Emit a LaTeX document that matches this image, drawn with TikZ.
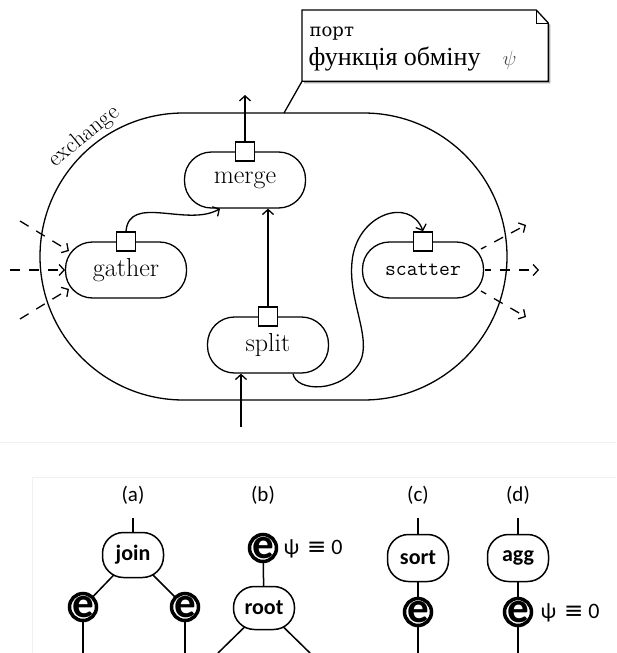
\documentclass[tikz,border=0pt]{standalone}
\usepackage{fontspec}
\usetikzlibrary{arrows.meta,backgrounds}
\newfontfamily\carlito{Carlito}
\newfontfamily\noteslab{DejaVu Serif}
\newfontfamily\noteserif{Liberation Serif}
\newfontfamily\symfont{DejaVu Sans}
\begin{document}
\begin{tikzpicture}[x=1pt,y=1pt,
  line width=1.3pt,
  arr/.style={-{Straight Barb[length=5pt,width=11pt]}},
  flow/.style={arr, dash pattern=on 10pt off 9pt},
  proc/.style={draw, fill=white, rectangle, rounded corners=27pt,
    minimum width=121pt, minimum height=56pt, inner sep=0pt,
    font=\fontsize{26}{26}\selectfont},
  port/.style={draw, fill=white, minimum size=19pt, inner sep=0pt},
  op/.style={draw, fill=white, rounded corners=21pt, minimum width=61pt,
    minimum height=45pt, inner sep=0pt, line width=1.5pt,
    font=\carlito\bfseries\fontsize{22}{22}\selectfont},
  ebox/.style={circle, draw, line width=3.5pt, fill=white, minimum size=27pt,
    inner sep=0pt,
    path picture={\node at (path picture bounding box.center)
      {\carlito\bfseries\fontsize{43}{43}\selectfont e};}},
  edgeline/.style={line width=1.5pt},
  figlabel/.style={font=\carlito\fontsize{21}{21}\selectfont, inner sep=0pt},
  eqlabel/.style={anchor=base west, inner sep=0pt, font=\carlito\fontsize{22}{22}\selectfont},
]
\useasboundingbox (0,0) rectangle (616,-653);

% ---------------- exchange operator ----------------
\draw[rounded corners=143.5pt] (40,-113) rectangle (507,-400);
\node[anchor=base, inner sep=0pt, rotate=39, font=\fontsize{23}{23}\selectfont]
  (xlabel) at (88,-141) {exchange};

% note box
\node[minimum width=245pt, minimum height=70pt, anchor=north west, inner sep=0pt]
  (note) at (302,-10) {};
\fill[black!35] ([shift={(2,-2)}]note.north west) -- ([shift={(-10,-2)}]note.north east)
  -- ([shift={(2,-15)}]note.north east) -- ([shift={(2,-2)}]note.south east)
  -- ([shift={(2,-2)}]note.south west) -- cycle;
\draw[fill=white] (note.north west) -- ([xshift=-12pt]note.north east)
  -- ([yshift=-13pt]note.north east) -- (note.south east) -- (note.south west) -- cycle;
\draw[line width=1pt] ([xshift=-12pt]note.north east) -- ([xshift=-12pt,yshift=-13pt]note.north east)
  -- ([yshift=-13pt]note.north east);
\node[anchor=base west, inner sep=0pt, font=\noteslab\fontsize{18}{18}\selectfont]
  (nport) at (309,-36) {порт};
\node[anchor=base west, inner sep=0pt, font=\noteserif\fontsize{26}{26}\selectfont]
  (nfun) at (308,-65) {функція обміну};
\node[anchor=base west, inner sep=0pt, text=black!70, font=\fontsize{22}{22}\selectfont]
  (npsi) at (502,-65) {$\psi$};
\coordinate (lead) at (284,-113);
\draw (note.south west) -- (lead);

% operators inside the exchange
\node[proc] (merge) at (245,-180) {merge};
\node[proc] (gather) at (126,-270) {gather};
\node[proc] (split) at (268,-345) {split};
\node[proc, font=\ttfamily\fontsize{21}{21}\selectfont] (scatter) at (423,-270) {scatter};

\node[port] (mp) at (merge.north) {};
\node[port] (gp) at (gather.north) {};
\node[port] (sp) at (split.north) {};
\node[port] (cp) at (scatter.north) {};

% data flow
\coordinate (mout) at (245,-95);
\draw[arr] (mp.north) -- (mout);
\draw[arr] (gp.north) to[out=85, in=-150] ([xshift=-25pt]merge.south);
\draw[arr] (sp.north) -- (sp.north |- merge.south);
\coordinate (sin) at (241,-427);
\draw[arr] (sin) -- (sin |- split.south);
\draw[arr] ([xshift=25pt]split.south) .. controls (296,-392) and (342,-394) .. (360,-362)
  .. controls (372,-338) and (348,-300) .. (352,-262)
  .. controls (356,-214) and (410,-196) .. (cp.north);

% incoming partitions
\coordinate (gi1) at (20,-221);  \coordinate (gt1) at (69,-251);
\coordinate (gi2) at (10,-270);  \coordinate (gt2) at (65,-270);
\coordinate (gi3) at (20,-319);  \coordinate (gt3) at (69,-289);
\draw[flow] (gi1) -- (gt1);
\draw[flow] (gi2) -- (gt2);
\draw[flow] (gi3) -- (gt3);

% outgoing partitions
\coordinate (so1) at (481,-249); \coordinate (st1) at (526,-225);
\coordinate (so2) at (485,-270); \coordinate (st2) at (539,-270);
\coordinate (so3) at (481,-291); \coordinate (st3) at (526,-317);
\draw[flow, dash phase=4pt] (so1) -- (st1);
\draw[flow, dash phase=4pt] (so2) -- (st2);
\draw[flow, dash phase=4pt] (so3) -- (st3);

% ---------------- plan fragments ----------------
\draw[black!6, line width=1pt] (0,-442) -- (616,-442);
\draw[black!6, line width=1pt] (616,-477) -- (32,-477) -- (32,-653);

\node[figlabel] (la) at (133,-495) {(a)};
\node[figlabel] (lb) at (263,-495) {(b)};
\node[figlabel] (lc) at (418,-495) {(c)};
\node[figlabel] (ld) at (518,-495) {(d)};

% (a)
\coordinate (ja) at (133,-518);
\node[op] (join) at (133,-555) {join};
\node[ebox] (e1) at (83,-607) {};
\node[ebox] (e2) at (185,-607) {};
\coordinate (e1o) at (83,-653);
\coordinate (e2o) at (185,-653);

% (b)
\node[ebox] (e3) at (263,-548) {};
\node[op, minimum height=43pt] (root) at (264,-608) {root};
\coordinate (r1) at (218,-653);
\coordinate (r2) at (310,-653);
\node[eqlabel] (q1) at (283,-554) {ψ\hspace{8pt}{\symfont\fontsize{23}{23}\selectfont ≡}\hspace{5pt}0};

% (c)
\coordinate (sa) at (418,-518);
\node[op, minimum height=47pt] (sort) at (418,-558) {sort};
\node[ebox] (e4) at (418,-612) {};
\coordinate (e4o) at (418,-653);

% (d)
\coordinate (aa) at (518,-518);
\node[op, minimum height=47pt] (agg) at (518,-558) {agg};
\node[ebox] (e5) at (518,-612) {};
\coordinate (e5o) at (518,-653);
\node[eqlabel] (q2) at (540,-618) {ψ\hspace{8pt}{\symfont\fontsize{23}{23}\selectfont ≡}\hspace{5pt}0};

\begin{scope}[on background layer]
  \draw[edgeline] (ja) -- (join.center);
  \draw[edgeline] (join.center) -- (e1.center);
  \draw[edgeline] (join.center) -- (e2.center);
  \draw[edgeline] (e1.center) -- (e1o);
  \draw[edgeline] (e2.center) -- (e2o);
  \draw[edgeline] (e3.center) -- (root.center);
  \draw[edgeline] (root.center) -- (r1);
  \draw[edgeline] (root.center) -- (r2);
  \draw[edgeline] (sa) -- (sort.center);
  \draw[edgeline] (sort.center) -- (e4.center);
  \draw[edgeline] (e4.center) -- (e4o);
  \draw[edgeline] (aa) -- (agg.center);
  \draw[edgeline] (agg.center) -- (e5.center);
  \draw[edgeline] (e5.center) -- (e5o);
\end{scope}
\end{tikzpicture}
\end{document}
